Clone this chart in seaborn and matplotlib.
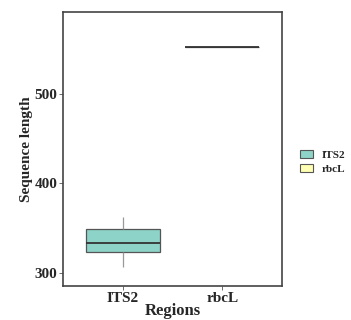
import numpy as np
import pandas as pd
import matplotlib
matplotlib.use("Agg")
import matplotlib.pyplot as plt
import seaborn as sns
from matplotlib.patches import Patch

# sequence lengths per region
its2_len = [306, 318, 323, 328, 333, 340, 349, 355, 362]
rbcl_len = [553, 553, 553, 553, 553]
regions = ["ITS2", "rbcL"]
colors = ["#8dd3c7", "#ffffb3"]

df = pd.DataFrame({
    "Regions": ["ITS2"] * len(its2_len) + ["rbcL"] * len(rbcl_len),
    "length": its2_len + rbcl_len,
})

sns.set_style("white")
plt.rcParams["font.family"] = ["Liberation Serif", "DejaVu Serif"]
plt.rcParams["font.weight"] = "bold"

fig = plt.figure(figsize=(3.51, 3.20), dpi=100)
ax = fig.add_axes([0.18, 0.106, 0.623, 0.857])

sns.boxplot(data=df, x="Regions", y="length", hue="Regions", order=regions,
            palette=colors, saturation=1, width=0.75, linecolor="#555555",
            linewidth=0.9, whis=1.5, legend=False, ax=ax,
            medianprops={"color": "#333333", "linewidth": 1.3},
            whiskerprops={"color": "#999999"},
            capprops={"linewidth": 0})

ax.set_xlim(-0.6, 1.6)
ax.set_ylim(285, 592)
ax.set_yticks([300, 400, 500])
ax.set_xlabel("Regions", fontsize=12, fontweight="bold", labelpad=-1)
ax.set_ylabel("Sequence length", fontsize=11, fontweight="bold", labelpad=1)
ax.tick_params(axis="both", labelsize=11, length=3, width=0.6, color="#555555",
               bottom=True, left=True, pad=1)
for lab in ax.get_xticklabels() + ax.get_yticklabels():
    lab.set_fontweight("bold")
for s in ax.spines.values():
    s.set_color("#444444")
    s.set_linewidth(1.2)

handles = [Patch(facecolor=c, edgecolor="#555555", linewidth=0.8) for c in colors]
fig.legend(handles, regions, loc="center left", bbox_to_anchor=(0.825, 0.495),
           frameon=False, handlelength=1.2, handleheight=0.8,
           labelspacing=0.35, handletextpad=0.8,
           prop={"family": "Liberation Serif", "weight": "bold", "size": 8})

fig.savefig("out.png", dpi=100)
